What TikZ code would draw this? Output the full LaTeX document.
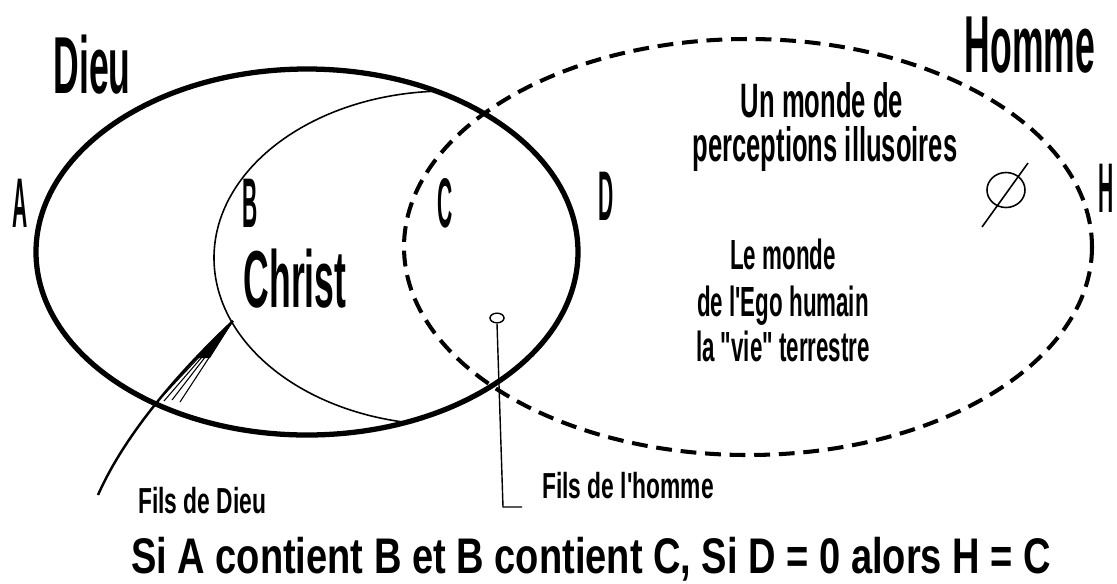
\documentclass[tikz,border=0pt]{standalone}
\usepackage{fontspec}
\setmainfont{Liberation Sans}
\newfontfamily\titlefont{Liberation Sans}[FakeStretch=0.44]
\newfontfamily\letterfont{Liberation Sans}[FakeStretch=0.3]
\newfontfamily\notefont{Liberation Sans}[FakeStretch=0.53]
\newfontfamily\filsfont{Liberation Sans}[FakeStretch=0.63]
\newfontfamily\footfont{Liberation Sans}[FakeStretch=0.76]
\usetikzlibrary{shapes.geometric}

\begin{document}
\begin{tikzpicture}[x=0.02cm, y=-0.02cm,
  every node/.style={inner sep=0pt},
  titlelbl/.style={anchor=base, font=\titlefont\bfseries\fontsize{46}{46}\selectfont},
  ltr/.style={anchor=base, font=\letterfont\bfseries\fontsize{40}{40}\selectfont},
  bubble/.style={anchor=base, font=\notefont\bfseries\fontsize{27.5}{27.5}\selectfont},
  egotext/.style={anchor=base, font=\notefont\bfseries\fontsize{24}{24}\selectfont},
  note/.style={anchor=base west, font=\filsfont\bfseries\fontsize{20.6}{20.6}\selectfont},
  rulebox/.style={anchor=base, font=\footfont\bfseries\fontsize{28.5}{28.5}\selectfont}]
  \useasboundingbox (0,0) rectangle (1117,583);

  % the three sets
  \draw[line width=3pt] (307,252) ellipse [x radius=271, y radius=183];
  \draw[line width=0.9pt] (447,258) ++(268:233 and 167)
    arc[start angle=268, end angle=100, x radius=233, y radius=167];
  \draw[line width=2.3pt, dash pattern=on 9pt off 5pt] (748,247) ellipse [x radius=344, y radius=208];

  % labels
  \node[titlelbl] (dieu) at (92,93) {Dieu};
  \node[titlelbl] (homme) at (1030,72) {Homme};
  \node[titlelbl] (christ) at (295,307) {Christ};
  \foreach \name/\x/\y/\txt in {la/20/227/A, lb/250/227/B, lc/445/227/C, ld/606/220/D, lh/1106/212/H}
    \node[ltr] (\name) at (\x,\y) {\txt};

  \node[bubble] (illus1) at (822,117) {Un monde de};
  \node[bubble] (illus2) at (825,161) {perceptions illusoires};
  \node[egotext] (ego1) at (783,269) {Le monde};
  \node[egotext] (ego2) at (783,316) {de l'Ego humain};
  \node[egotext] (ego3) at (783,361) {la "vie" terrestre};

  % empty set
  \draw[line width=0.9pt] (1006,190) ellipse [x radius=19, y radius=17.5];
  \draw[line width=0.9pt] (982,227) -- (1028,163);

  % Fils de Dieu
  \node[note] (filsdieu) at (138,513) {Fils de Dieu};
  \coordinate (tail) at (98,495);
  \coordinate (tip) at (233,321);
  \draw[line width=1.4pt] (tail) .. controls (120,445) and (165,385) .. (tip);
  \foreach \sx/\sy in {156/403, 164/401, 172/400, 180/402}
    \draw[line width=0.6pt] (\sx,\sy) -- (tip);
  \fill (tip) -- (196,358) -- (210,358) -- cycle;

  % Fils de l'homme
  \node[draw, ellipse, line width=0.8pt, minimum width=8pt, minimum height=5.5pt] (loop) at (497,318) {};
  \node[note] (filshomme) at (542,498) {Fils de l'homme};
  \coordinate (hook) at (503,507);
  \draw[line width=0.8pt] (loop.south) -- (hook) -- ++(19,0);

  \node[rulebox] (rule) at (591,573) {Si A contient B et B contient C, Si D = 0 alors H = C};
\end{tikzpicture}
\end{document}
